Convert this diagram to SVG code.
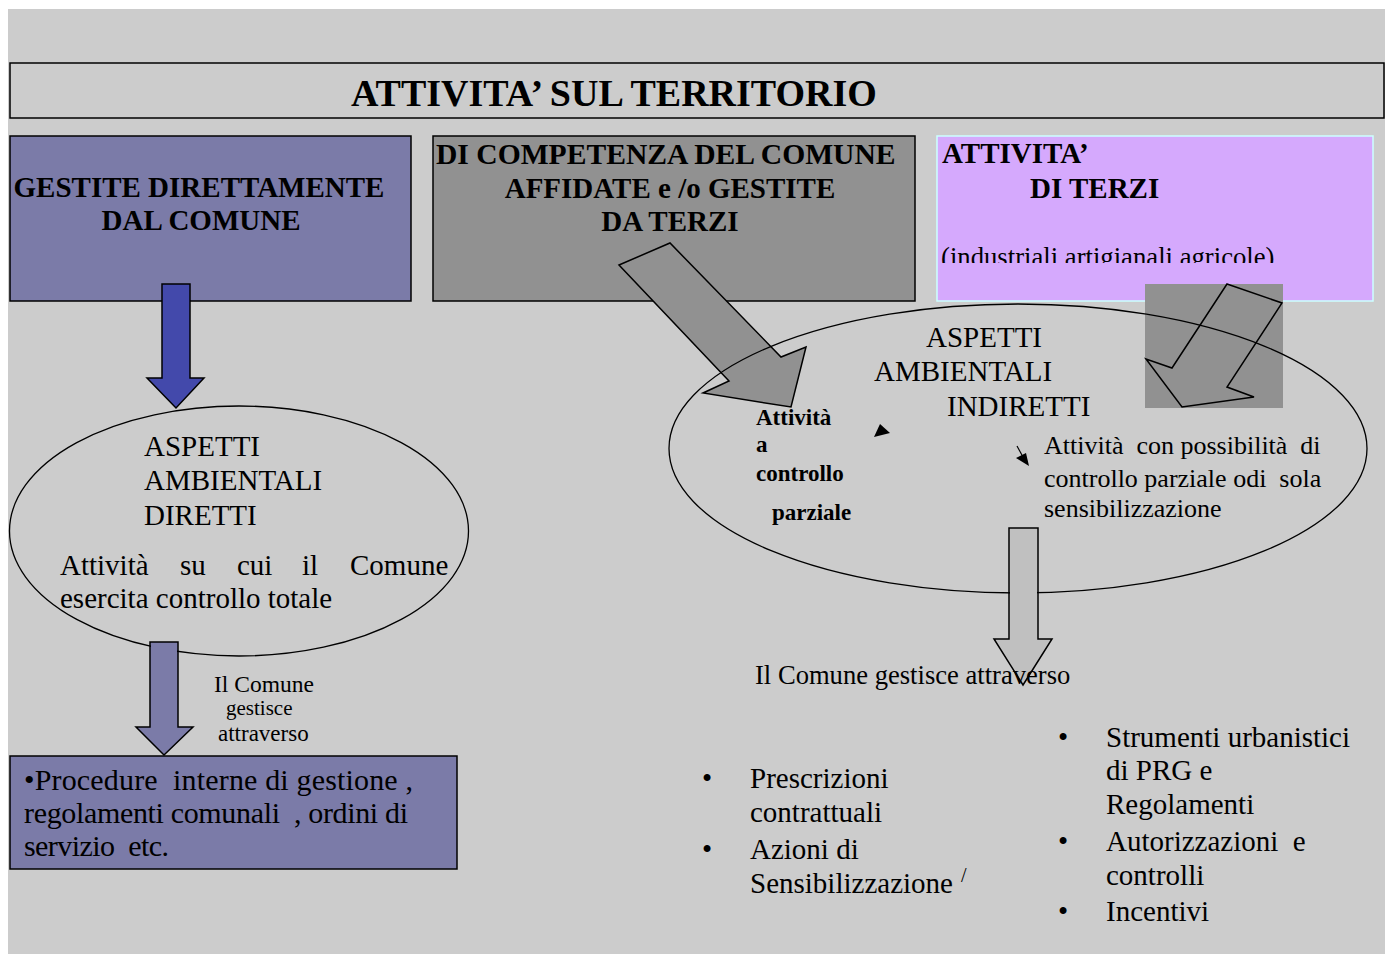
<svg xmlns="http://www.w3.org/2000/svg" width="1388" height="954" viewBox="0 0 1388 954">
<style>
  text { font-family: "Liberation Serif", "Times New Roman", serif; fill: #000; white-space: pre; }
  .hb { font-weight: bold; font-size: 29px; }
  .t28 { font-size: 29px; }
  .t29 { font-size: 29px; }
  .t30 { font-size: 30px; }
  .t26 { font-size: 26px; }
  .sb { font-weight: bold; font-size: 23px; }
  .edge { stroke: #000; stroke-width: 1.5; }
  .ell { fill: none; stroke: #000; stroke-width: 1.3; }
</style>
<defs>
  <clipPath id="clipTerzi"><rect x="937" y="135" width="436" height="128"/></clipPath>
  <mask id="m1"><rect x="0" y="0" width="1388" height="954" fill="#fff"/><rect x="151" y="641" width="26" height="30" fill="#000"/></mask>
  <mask id="m2"><rect x="0" y="0" width="1388" height="954" fill="#fff"/><rect x="1010" y="560" width="27" height="60" fill="#000"/></mask>
</defs>
<rect x="0" y="0" width="1388" height="954" fill="#fff"/>
<rect x="8" y="9" width="1377" height="945" fill="#cccccc"/>

<g id="title">
  <rect x="10" y="63" width="1374" height="55" fill="#cccccc" class="edge"/>
  <text x="351" y="106" font-weight="bold" font-size="38">ATTIVITA’ SUL TERRITORIO</text>
</g>

<g id="box-gestite">
  <rect x="10" y="136" width="401" height="165" fill="#7b7ba8" class="edge"/>
  <text class="hb" x="199" y="197" text-anchor="middle" font-size="29.4">GESTITE DIRETTAMENTE</text>
  <text class="hb" x="201" y="230" text-anchor="middle">DAL COMUNE</text>
</g>

<g id="box-competenza">
  <rect x="433" y="136" width="482" height="165" fill="#919191" class="edge"/>
  <text class="hb" x="436" y="164" style="font-size:29.6px">DI COMPETENZA DEL COMUNE</text>
  <text class="hb" x="670" y="198" text-anchor="middle">AFFIDATE e /o GESTITE</text>
  <text class="hb" x="670" y="231" text-anchor="middle">DA TERZI</text>
</g>

<g id="box-terzi">
  <rect x="937" y="136" width="436" height="165" fill="#d5a9fd" stroke="#ccffff" stroke-width="1.5"/>
  <text class="hb" x="942" y="163">ATTIVITA’</text>
  <text class="hb" x="1030" y="198">DI TERZI</text>
  <text x="941" y="266" font-size="26.7" clip-path="url(#clipTerzi)">(industriali,artigianali,agricole)</text>
</g>

<g id="connectors">
  <polygon id="arrow-direct" points="162,284 190,284 190,378 204,378 176,408 147,378 162,378" fill="#4349ab" class="edge"/>
  <polygon id="arrow-comune" points="150,642 178,642 178,727 193,727 164,755 136,727 150,727" fill="#7b7ba8" class="edge"/>
  <polygon id="arrow-competenza" points="619,265 670,243 781,357 806,347 791,407 703,393 729,381" fill="#919191" class="edge"/>
  <g id="arrow-terzi">
    <rect x="1145" y="284" width="138" height="124" fill="#919191"/>
    <polygon points="1227,284 1282,303 1227,387 1254,397 1182,407 1146,359 1172,368" fill="none" class="edge"/>
  </g>
  <polygon id="arrow-indiretti" points="1009,528 1038,528 1038,639 1052,639 1023,685 994,639 1009,639" fill="#c0c0c0" class="edge"/>
  <polygon points="874,437 880,424 890,433" fill="#000"/>
  <line x1="1017" y1="446" x2="1023" y2="457" stroke="#000" stroke-width="1.2"/>
  <polygon points="1016,458 1026,453 1029,466" fill="#000"/>
</g>

<g id="ellipse-diretti">
  <ellipse cx="239" cy="531" rx="229.5" ry="125" class="ell" mask="url(#m1)"/>
  <text class="t28" x="144" y="456">ASPETTI</text>
  <text class="t28" x="144" y="490">AMBIENTALI</text>
  <text class="t28" x="144" y="525">DIRETTI</text>
  <text class="t28" y="575"><tspan x="60">Attività</tspan><tspan x="180">su</tspan><tspan x="237">cui</tspan><tspan x="302">il</tspan><tspan x="350">Comune</tspan></text>
  <text class="t28" x="60" y="608">esercita controllo totale</text>
</g>

<g id="ellipse-indiretti">
  <ellipse cx="1018" cy="448.5" rx="349" ry="144.5" class="ell" mask="url(#m2)"/>
  <text class="t28" x="926" y="347">ASPETTI</text>
  <text class="t28" x="874" y="381">AMBIENTALI</text>
  <text class="t28" x="947" y="416">INDIRETTI</text>
  <text class="sb" x="756" y="425">Attività</text>
  <text class="sb" x="756" y="452">a</text>
  <text class="sb" x="756" y="481">controllo</text>
  <text class="sb" x="772" y="520">parziale</text>
  <text class="t26" x="1044" y="454">Attività  con possibilità  di</text>
  <text class="t26" x="1044" y="487">controllo parziale odi  sola</text>
  <text class="t26" x="1044" y="517">sensibilizzazione</text>
</g>

<g id="label-comune-left">
  <text x="214" y="692" font-size="23.5">Il Comune</text>
  <text x="226" y="715" font-size="21">gestisce</text>
  <text x="218" y="741" font-size="23">attraverso</text>
</g>

<g id="box-procedure">
  <rect x="10" y="756" width="447" height="113" fill="#7b7ba8" class="edge"/>
  <text class="t30" x="24" y="790" textLength="389">•Procedure  interne di gestione ,</text>
  <text class="t30" x="24" y="823" textLength="384">regolamenti comunali  , ordini di</text>
  <text class="t30" x="24" y="856" textLength="145">servizio  etc.</text>
</g>

<g id="label-comune-right">
  <text x="755" y="684" font-size="26.6">Il Comune gestisce attraverso</text>
</g>

<g id="list-left">
  <text class="t29" x="702" y="788">•</text>
  <text class="t29" x="750" y="788">Prescrizioni</text>
  <text class="t29" x="750" y="822">contrattuali</text>
  <text class="t29" x="702" y="859">•</text>
  <text class="t29" x="750" y="859">Azioni di</text>
  <text class="t29" x="750" y="893">Sensibilizzazione</text>
  <text x="961" y="882" font-size="20">/</text>
</g>

<g id="list-right">
  <text class="t29" x="1058" y="747">•</text>
  <text class="t29" x="1106" y="747">Strumenti urbanistici</text>
  <text class="t29" x="1106" y="780">di PRG e</text>
  <text class="t29" x="1106" y="814">Regolamenti</text>
  <text class="t29" x="1058" y="851">•</text>
  <text class="t29" x="1106" y="851">Autorizzazioni  e</text>
  <text class="t29" x="1106" y="885">controlli</text>
  <text class="t29" x="1058" y="921">•</text>
  <text class="t29" x="1106" y="921">Incentivi</text>
</g>
</svg>
